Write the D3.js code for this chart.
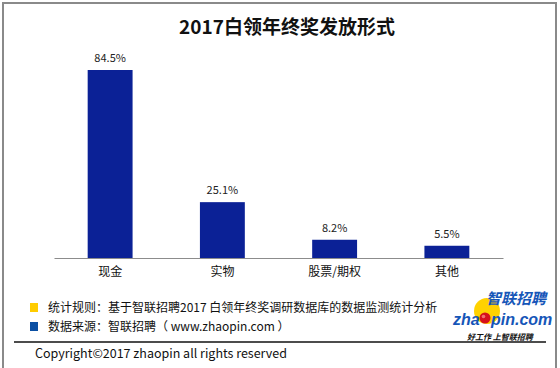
<!DOCTYPE html>
<html><head><meta charset="utf-8">
<script src="https://cdn.jsdelivr.net/npm/d3@7"></script>
<style>
html,body{margin:0;padding:0;background:#fff;}
svg{display:block;}
</style></head>
<body>
<svg id="chart" width="560" height="368"></svg>
<script>
const title = "2017白领年终奖发放形式";
const categories = ["现金", "实物", "股票/期权", "其他"];
const values = [84.5, 25.1, 8.2, 5.5];
const valueLabels = ["84.5%", "25.1%", "8.2%", "5.5%"];
const legendItems = ["统计规则：基于智联招聘2017 白领年终奖调研数据库的数据监测统计分析", "数据来源：智联招聘（ www.zhaopin.com ）"];
const legendColors = ["#ffcc00", "#0b4fa3"];
const copyright = "Copyright©2017 zhaopin all rights reserved";
const logoTop = "智联招聘";
const logoLeft = "zha";
const logoRight = "pin.com";
const logoSlogan = "好工作   上智联招聘";

const FONT = "'Noto Sans CJK SC','Noto Sans',sans-serif";
const svg = d3.select("#chart").style("font-family", FONT);

// frame
svg.append("path").attr("d", "M3,368 V3 H556 V368").attr("fill", "none").attr("stroke", "#8a8a8a").attr("stroke-width", 2);

// title
svg.append("text").attr("x", 287).attr("y", 34).attr("text-anchor", "middle")
  .attr("font-size", 19).attr("font-weight", "bold").attr("fill", "#111").text(title);

const x = d3.scaleBand().domain(categories).range([54, 503]).paddingInner(0.6).paddingOuter(0.3);
const y = d3.scaleLinear().domain([0, 84.5]).range([258, 70]);

svg.selectAll("rect.bar").data(values).join("rect").attr("class", "bar")
  .attr("x", (d, i) => x(categories[i])).attr("width", x.bandwidth())
  .attr("y", d => y(d)).attr("height", d => y(0) - y(d)).attr("fill", "#0b2196");

svg.selectAll("text.val").data(values).join("text").attr("class", "val")
  .attr("x", (d, i) => x(categories[i]) + x.bandwidth() / 2).attr("y", d => y(d) - 8)
  .attr("text-anchor", "middle").attr("font-size", 11).attr("fill", "#222")
  .text((d, i) => valueLabels[i]);

const axis = d3.axisBottom(x).tickSize(0).tickPadding(9);
const ag = svg.append("g").attr("transform", "translate(0,258)").call(axis);
ag.select(".domain").attr("stroke", "#8c8c8c").attr("stroke-width", 1.2);
ag.selectAll("text").attr("font-size", 12).attr("fill", "#111").style("font-family", FONT);

// legend
const lg = svg.selectAll("g.leg").data(legendItems).join("g").attr("class", "leg")
  .attr("transform", (d, i) => `translate(30,${303 + i * 19})`);
lg.append("rect").attr("width", 8).attr("height", 9).attr("fill", (d, i) => legendColors[i]);
lg.append("text").attr("x", 18).attr("y", 9).attr("font-size", 12).attr("fill", "#111").text(d => d);

svg.append("line").attr("x1", 14).attr("x2", 546).attr("y1", 342).attr("y2", 342).attr("stroke", "#111").attr("stroke-width", 1.5);
svg.append("text").attr("x", 35).attr("y", 358).attr("font-size", 12.5).attr("fill", "#111").text(copyright);

// logo
const logo = svg.append("g");
const logoFont = "'Liberation Sans',Arial,sans-serif";
logo.append("circle").attr("cx", 487).attr("cy", 311).attr("r", 13).attr("fill", "#ffd200");
logo.append("text").attr("x", 546).attr("y", 304).attr("text-anchor", "end").attr("font-size", 15)
  .attr("font-weight", "bold").attr("font-style", "italic").attr("fill", "#1656b8").text(logoTop);
logo.append("text").attr("x", 453).attr("y", 325).attr("font-size", 16)
  .attr("font-weight", "bold").attr("font-style", "italic").attr("fill", "#1656b8")
  .style("font-family", logoFont).text(logoLeft);
logo.append("circle").attr("cx", 485).attr("cy", 318).attr("r", 5.5).attr("fill", "#d6101c");
logo.append("circle").attr("cx", 483.5).attr("cy", 316.5).attr("r", 1.8).attr("fill", "#f07070");
logo.append("text").attr("x", 491).attr("y", 325).attr("font-size", 16)
  .attr("font-weight", "bold").attr("font-style", "italic").attr("fill", "#1656b8")
  .style("font-family", logoFont).text(logoRight);
logo.append("text").attr("x", 467).attr("y", 340).attr("font-size", 8).attr("font-weight", "bold")
  .attr("font-style", "italic").attr("fill", "#111").text(logoSlogan);
</script>
</body></html>
